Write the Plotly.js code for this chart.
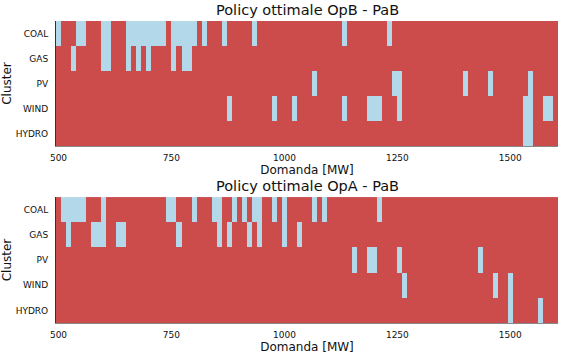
<!DOCTYPE html>
<html>
<head>
<meta charset="utf-8">
<script src="https://cdn.plot.ly/plotly-3.0.1.min.js"></script>
<style>html,body{margin:0;padding:0;background:#fff;}#chart{width:566px;height:354px;}</style>
</head>
<body>
<div id="chart"></div>
<script>
// Demand grid (100 points from 500 to 1600 MW)
const demandStart = 500;
const demandStep = 1100 / 99;
const nDemand = 100;
const clusters = ['COAL', 'GAS', 'PV', 'WIND', 'HYDRO'];
const xTicks = [500, 750, 1000, 1250, 1500];

// Indices of demand points where the cluster is selected (light blue) — OpB - PaB
const opB_COAL  = [0,4,5,9,10,14,15,16,17,18,19,20,21,23,24,25,26,27,29,33,39,57,66];
const opB_GAS   = [3,9,10,14,16,18,23,25,26];
const opB_PV    = [51,67,68,81,86,94];
const opB_WIND  = [34,43,47,57,62,63,64,68,93,94,97,98];
const opB_HYDRO = [93,94];

// OpA - PaB
const opA_COAL  = [1,2,3,4,5,9,22,23,27,31,32,35,37,39,40,43,45,51,53,64];
const opA_GAS   = [2,7,8,9,12,13,24,32,34,38,40,45,48];
const opA_PV    = [59,62,63,68,84];
const opA_WIND  = [69,87,90];
const opA_HYDRO = [90,96];

function buildZ(lists) {
  return lists.map(idx => {
    const row = new Array(nDemand).fill(0);
    idx.forEach(i => { row[i] = 1; });
    return row;
  });
}

const red = '#CC4C4C', blue = '#B3D8EA';
const cs = [[0, red], [0.5, red], [0.5, blue], [1, blue]];

const traces = [
  {type: 'heatmap', x0: demandStart, dx: demandStep, y: clusters,
   z: buildZ([opB_COAL, opB_GAS, opB_PV, opB_WIND, opB_HYDRO]),
   zmin: 0, zmax: 1, colorscale: cs, showscale: false, xaxis: 'x', yaxis: 'y', hoverinfo: 'skip'},
  {type: 'heatmap', x0: demandStart, dx: demandStep, y: clusters,
   z: buildZ([opA_COAL, opA_GAS, opA_PV, opA_WIND, opA_HYDRO]),
   zmin: 0, zmax: 1, colorscale: cs, showscale: false, xaxis: 'x2', yaxis: 'y2', hoverinfo: 'skip'}
];

const fontFam = 'DejaVu Sans, sans-serif';
const xBase = {
  range: [demandStart - demandStep / 2, demandStart + demandStep * (nDemand - 0.5)],
  tickvals: xTicks, ticktext: xTicks.map(String),
  showgrid: false, zeroline: false, showline: true, linecolor: '#888', linewidth: 1,
  ticks: '', ticklabelstandoff: 3, tickfont: {size: 9, family: fontFam, color: '#111'},
  title: {text: 'Domanda [MW]', font: {size: 12, family: fontFam, color: '#111'}, standoff: 3}
};
const yBase = {
  autorange: 'reversed', type: 'category',
  showgrid: false, zeroline: false, showline: true, linecolor: '#333', linewidth: 1,
  ticks: '', ticklabelstandoff: 5, tickfont: {size: 9, family: fontFam, color: '#111'},
  title: {text: 'Cluster', font: {size: 12, family: fontFam, color: '#111'}, standoff: 6}
};

const layout = {
  width: 566, height: 354,
  margin: {l: 56, r: 8, t: 21, b: 31},
  paper_bgcolor: '#fff', plot_bgcolor: '#fff',
  font: {family: fontFam},
  xaxis: Object.assign({}, xBase, {domain: [0, 1], anchor: 'y'}),
  yaxis: Object.assign({}, yBase, {domain: [0.586, 1], anchor: 'x'}),
  xaxis2: Object.assign({}, xBase, {domain: [0, 1], anchor: 'y2'}),
  yaxis2: Object.assign({}, yBase, {domain: [0, 0.417], anchor: 'x2'}),
  annotations: [
    {text: 'Policy ottimale OpB - PaB', xref: 'paper', yref: 'paper', x: 0.5, y: 1, yshift: 1,
     xanchor: 'center', yanchor: 'bottom', showarrow: false, font: {size: 14.5, family: fontFam, color: '#111'}},
    {text: 'Policy ottimale OpA - PaB', xref: 'paper', yref: 'paper', x: 0.5, y: 0.417, yshift: 1,
     xanchor: 'center', yanchor: 'bottom', showarrow: false, font: {size: 14.5, family: fontFam, color: '#111'}}
  ]
};

Plotly.newPlot('chart', traces, layout, {displayModeBar: false, staticPlot: true});
</script>
</body>
</html>
